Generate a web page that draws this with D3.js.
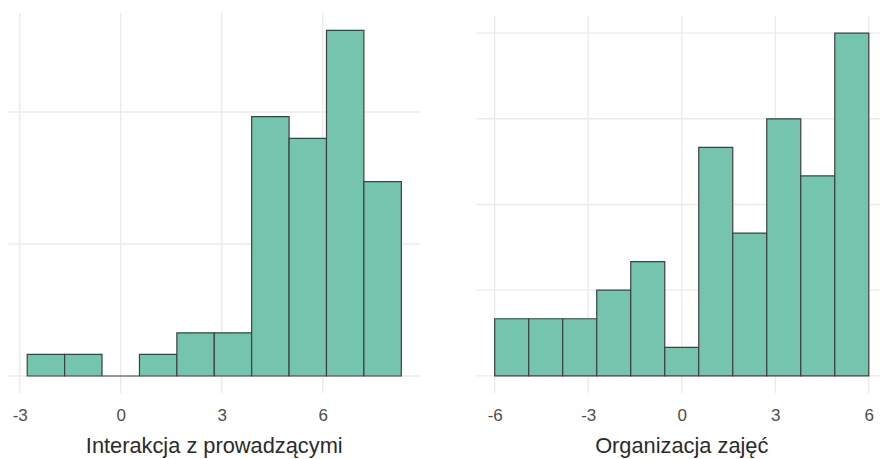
<!DOCTYPE html>
<html>
<head>
<meta charset="utf-8">
<script src="https://cdn.jsdelivr.net/npm/d3@7"></script>
<style>
  html, body { margin: 0; padding: 0; background: #fff; }
  svg { display: block; }
  text { font-family: "Liberation Sans", Arial, sans-serif; }
</style>
</head>
<body>
<svg id="chart" width="880" height="459"></svg>
<script>
// ---- data ----
const leftTitle = "Interakcja z prowadzącymi";
const leftEdges = [-2.778, -1.667, -0.556, 0.556, 1.667, 2.778, 3.889, 5.000, 6.111, 7.222, 8.333];
const leftCounts = [1, 1, 0, 1, 2, 2, 12, 11, 16, 9];
const leftXTicks = [-3, 0, 3, 6];
const leftYGrid = [0, 0.1, 0.2];

const rightTitle = "Organizacja zajęć";
const rightEdges = [-6, -4.909, -3.818, -2.727, -1.636, -0.545, 0.545, 1.636, 2.727, 3.818, 4.909, 6];
const rightCounts = [2, 2, 2, 3, 4, 1, 8, 5, 9, 7, 12];
const rightXTicks = [-6, -3, 0, 3, 6];
const rightYGrid = [0, 0.05, 0.1, 0.15, 0.2];

const svg = d3.select("#chart");

function panel(cfg) {
  const n = d3.sum(cfg.counts);
  const bins = cfg.counts.map((c, i) => {
    const x0 = cfg.edges[i], x1 = cfg.edges[i + 1];
    return { x0, x1, density: c / (n * (x1 - x0)) };
  });
  const xMin = cfg.edges[0], xMax = cfg.edges[cfg.edges.length - 1];
  const xPad = (xMax - xMin) * 0.05;
  const yMax = d3.max(bins, d => d.density);
  const yPad = yMax * 0.05;

  const x = d3.scaleLinear().domain([xMin - xPad, xMax + xPad]).range([cfg.left, cfg.right]);
  const y = d3.scaleLinear().domain([-yPad, yMax + yPad]).range([cfg.bottom, cfg.top]);

  const g = svg.append("g");

  // grid
  g.append("g").selectAll("line").data(cfg.xTicks).join("line")
    .attr("x1", d => x(d)).attr("x2", d => x(d))
    .attr("y1", cfg.top).attr("y2", cfg.bottom)
    .attr("stroke", "#ebebeb").attr("stroke-width", 1.4);
  g.append("g").selectAll("line").data(cfg.yGrid).join("line")
    .attr("x1", cfg.left).attr("x2", cfg.right)
    .attr("y1", d => y(d)).attr("y2", d => y(d))
    .attr("stroke", "#ebebeb").attr("stroke-width", 1.4);

  // bars (paths so that empty bins still show their outline)
  g.append("g").selectAll("path").data(bins).join("path")
    .attr("d", d => {
      const p = d3.path();
      p.rect(x(d.x0), y(d.density), x(d.x1) - x(d.x0), y(0) - y(d.density));
      return p.toString();
    })
    .attr("fill", "#75c4ad")
    .attr("stroke", "#3f3f3f")
    .attr("stroke-width", 1.2);

  // x axis labels
  const axis = d3.axisBottom(x).tickValues(cfg.xTicks).tickSize(0).tickPadding(0)
    .tickFormat(d => d < 0 ? "-" + Math.abs(d) : String(d));
  const ax = g.append("g").attr("transform", `translate(0,${cfg.bottom + 16})`).call(axis);
  ax.select(".domain").remove();
  ax.selectAll("text")
    .attr("fill", "#4d4d4d")
    .attr("font-size", 17)
    .attr("font-family", "'Liberation Sans', Arial, sans-serif");

  g.append("text")
    .attr("x", (cfg.left + cfg.right) / 2)
    .attr("y", 453)
    .attr("text-anchor", "middle")
    .attr("fill", "#2b2b2b")
    .attr("font-size", 21.8)
    .text(cfg.title);
}

panel({ title: leftTitle, edges: leftEdges, counts: leftCounts, xTicks: leftXTicks, yGrid: leftYGrid,
        left: 8.5, right: 420, top: 13, bottom: 393.3 });
panel({ title: rightTitle, edges: rightEdges, counts: rightCounts, xTicks: rightXTicks, yGrid: rightYGrid,
        left: 476, right: 887.5, top: 16, bottom: 393 });
</script>
</body>
</html>
